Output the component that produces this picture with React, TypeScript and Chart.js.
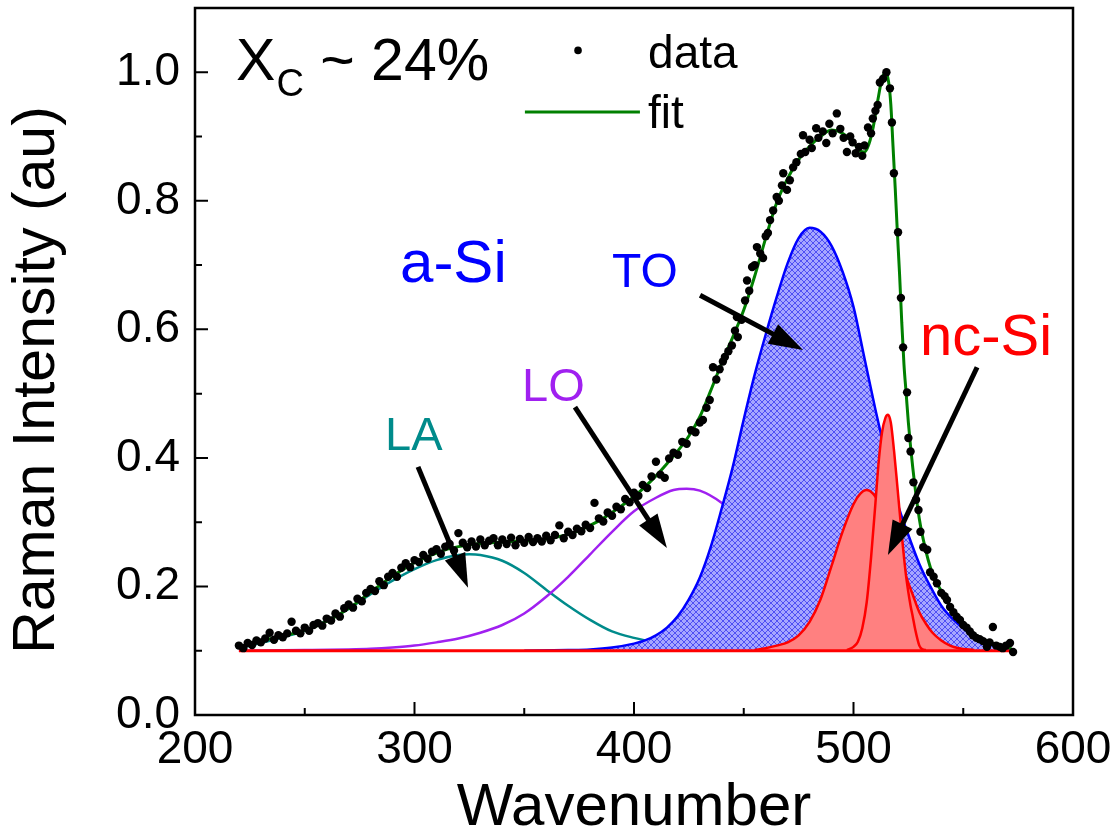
import React, { useEffect, useRef } from 'react';
import { Chart, registerables } from 'chart.js';

Chart.register(...registerables);

const FONT = "'Liberation Sans', Arial, Helvetica, sans-serif";

// ---- axis ticks ----
const xMajorTicks = [200, 300, 400, 500, 600];
const xMinorTicks = [250, 350, 450, 550];
const yMajorTicks = [0, 0.2, 0.4, 0.6, 0.8, 1.0];
const yMinorTicks = [0.1, 0.3, 0.5, 0.7, 0.9];

// ---- measured spectrum (wavenumber, intensity) ----
const dataPoints: [number, number][] = [
  [220,.108],[222,.104],[224,.112],[226,.109],[228,.116],[230,.113],[232,.119],[234,.128],[236,.117],[238,.124],
  [240,.121],[242,.127],[244,.145],[246,.131],[248,.127],[250,.136],[252,.131],[254,.140],[256,.143],[258,.139],
  [260,.150],[262,.147],[264,.158],[266,.153],[268,.166],[270,.172],[272,.167],[274,.181],[276,.177],[278,.190],
  [280,.196],[282,.193],[284,.208],[286,.202],[288,.215],[290,.221],[292,.215],[294,.229],[296,.236],[298,.230],
  [300,.241],[302,.238],[304,.249],[306,.243],[308,.254],[310,.258],[312,.251],[314,.262],[316,.266],[318,.256],
  [320,.283],[322,.268],[324,.261],[326,.270],[328,.262],[330,.273],[332,.264],[334,.271],[336,.275],[338,.264],
  [340,.273],[342,.266],[344,.276],[346,.264],[348,.274],[350,.268],[352,.277],[354,.269],[356,.275],[358,.270],
  [360,.279],[362,.272],[364,.280],[366,.295],[368,.275],[370,.285],[372,.280],[374,.290],[376,.286],[378,.296],
  [380,.291],[382,.330],[384,.306],[386,.301],[388,.315],[390,.310],[392,.324],[394,.320],[396,.336],[398,.331],
  [400,.346],[402,.341],[404,.358],[406,.353],[408,.371],[410,.394],[412,.374],[414,.369],[416,.399],[418,.408],
  [420,.405],[422,.425],[424,.422],[426,.443],[428,.440],
  [430,.455],[431.4,.459],[433,.478],[434.5,.49],[436,.541],[437.5,.522],[439,.538],[440.5,.55],[441.4,.557],[443,.566],
  [444.6,.575],[446,.598],[446.9,.619],[447.3,.588],[449,.615],[450.6,.645],[451.5,.676],[452.5,.66],[453.8,.697],[455,.70],
  [456,.728],[457.5,.718],[458.8,.711],[460,.745],[461,.75],[462,.77],[463.4,.785],[465,.806],[466,.80],[467.4,.824],
  [468,.843],[469.7,.817],[471,.832],[472.5,.852],[474,.86],[476,.873],[477,.902],[478,.876],[480,.895],[481,.882],
  [483,.913],[484,.898],[486,.908],[487.6,.89],[489,.92],[490.5,.905],[492.4,.936],[494,.912],[495.5,.898],[497,.876],
  [498.5,.90],[499.6,.891],[501,.874],[502.5,.884],[504,.87],[505,.886],[506.6,.914],[508,.905],[508.8,.928],[510,.94],
  [511,.949],[512,.984],[513.5,.99],[515,1.0],[516.6,.975],[517.5,.922],[518.4,.843],[520.3,.751],[521.6,.649],[522.6,.572],
  [524.4,.502],[525,.431],[526,.41],[527.3,.362],[528.5,.335],[529.6,.319],[530.5,.285],[531.8,.261],[533.6,.257],[534.9,.222],
  [536.5,.215],[538,.205],[540,.19],[541.5,.185],[542.6,.179],[544,.168],[545.5,.16],[547,.153],[548.5,.148],[550,.14],
  [551.5,.136],[553,.13],[554.4,.124],[556,.12],[557.5,.118],[559,.115],[560.8,.106],[562,.113],[563.5,.137],[565,.108],
  [566.7,.106],[568,.104],[569.5,.108],[571.3,.112],[572.7,.098],
];

// ---- fitted envelope ----
const fitCurve: [number, number][] = [
  [220,.106],[225,.110],[230,.115],[235,.119],[240,.123],[245,.127],[250,.132],[255,.138],[260,.146],[265,.155],
  [270,.166],[275,.178],[280,.191],[285,.204],[290,.216],[295,.227],[300,.237],[305,.245],[310,.252],[315,.258],
  [320,.262],[325,.265],[330,.267],[335,.268],[340,.269],[345,.270],[350,.271],[355,.272],[360,.274],[365,.277],
  [370,.281],[375,.287],[380,.295],[385,.304],[390,.315],[395,.327],[400,.340],[405,.355],[410,.372],[415,.391],
  [420,.411],[425,.434],[430,.464],[435,.505],[440,.548],[445,.588],[450,.630],[455,.683],[460,.742],[465,.797],
  [470,.835],[475,.864],[480,.885],[485,.900],[490,.910],[495,.905],[500,.890],[503,.878],[505,.876],[507,.888],
  [509,.915],[511,.955],[513,.990],[514.5,1.0],[516,.985],[517,.950],[518,.885],[519,.820],[520,.750],[521,.685],
  [522,.610],[523,.545],[524,.500],[525,.455],[527,.385],[530,.305],[533,.255],[535,.230],[538,.205],[540,.193],
  [545,.163],[550,.142],[555,.126],[560,.116],[565,.109],[570,.105],[572,.104],
];

// ---- component bands ----
const laBand: [number, number][] = [
  [220,.104],[230,.112],[240,.121],[250,.131],[260,.147],[270,.165],[280,.188],[290,.209],[300,.227],[310,.241],
  [320,.249],[325,.250],[330,.249],[340,.240],[350,.221],[360,.195],[370,.170],[380,.148],[390,.130],[400,.120],
  [410,.113],[420,.108],[430,.105],[440,.103],[450,.101],
];
const loBand: [number, number][] = [
  [220,.100],[250,.101],[270,.102],[280,.103],[290,.105],[300,.108],[310,.113],[320,.119],[330,.128],[340,.140],
  [350,.158],[360,.184],[370,.215],[380,.250],[390,.285],[400,.317],[410,.338],[418,.350],[424,.352],[430,.349],
  [440,.330],[450,.300],[460,.262],[470,.222],[480,.185],[490,.155],[500,.132],[510,.117],[520,.108],[530,.103],
  [540,.101],
];
const toBand: [number, number][] = [
  [350,.100],[370,.101],[380,.102],[390,.105],[400,.111],[405,.116],[410,.124],[415,.136],[420,.154],[425,.180],
  [430,.214],[435,.262],[440,.322],[445,.386],[450,.460],[455,.530],[460,.592],[465,.650],[470,.703],[475,.742],
  [480,.758],[485,.752],[490,.730],[495,.690],[500,.635],[505,.555],[510,.475],[515,.400],[520,.330],[525,.280],
  [530,.235],[535,.200],[540,.170],[545,.150],[550,.135],[555,.122],[560,.113],[566,.106],[572,.102],
];
const ncBand1: [number, number][] = [
  [455,.101],[460,.104],[465,.108],[470,.113],[475,.124],[480,.145],[485,.180],[490,.232],[495,.285],[500,.328],
  [503,.344],[506,.350],[509,.344],[512,.328],[515,.305],[518,.276],[521,.245],[524,.215],[527,.187],[530,.160],
  [533,.142],[536,.128],[540,.116],[544,.108],[548,.104],[555,.101],
];
const ncBand2: [number, number][] = [
  [497,.101],[500,.106],[502,.114],[504,.135],[506,.175],[508,.245],[510,.330],[511.5,.395],[513,.440],[514.5,.462],
  [515.7,.467],[517,.455],[518.5,.410],[520,.355],[522,.280],[524,.215],[526,.170],[527,.153],[528,.135],[530,.108],
  [531.5,.102],[533,.101],
];
const baseline: [number, number][] = [[220, 0.1], [572, 0.1]];
const BASE_LEVEL = 0.1;

// ---- annotations (data coordinates) ----
const textLabels = [
  { text: 'a-Si', x: 293.4, y: 0.673, color: '#0000FF', size: 60 },
  { text: 'TO', x: 390.0, y: 0.666, color: '#0000FF', size: 48 },
  { text: 'LO', x: 349.0, y: 0.488, color: '#A020F0', size: 47 },
  { text: 'LA', x: 286.6, y: 0.412, color: '#008B8B', size: 47 },
  { text: 'nc-Si', x: 530.3, y: 0.560, color: '#FF0000', size: 58 },
];
const arrows = [
  { x1: 301.6, y1: 0.386, x2: 324.4, y2: 0.198 },
  { x1: 373.1, y1: 0.479, x2: 415.0, y2: 0.260 },
  { x1: 430.1, y1: 0.653, x2: 477.0, y2: 0.568 },
  { x1: 556.3, y1: 0.541, x2: 515.7, y2: 0.249 },
];
const crystallinity = { main: 'X', sub: 'C', rest: ' ~ 24%', x: 218.7, y: 0.988 };
const legendItems = { dotX: 374.5, dotY: 1.034, lineX1: 350.3, lineX2: 402.7, lineY: 0.938, textX: 406.4, dataY: 1.006, fitY: 0.913 };

const toPts = (arr: [number, number][]) => arr.map(([x, y]) => ({ x, y }));

function makeHatch(): CanvasPattern | string {
  const c = document.createElement('canvas');
  c.width = 6; c.height = 6;
  const g = c.getContext('2d');
  if (!g) return '#8C8CFF';
  g.fillStyle = '#A6A6FF';
  g.fillRect(0, 0, 6, 6);
  g.strokeStyle = '#4646F2';
  g.lineWidth = 0.9;
  g.beginPath();
  g.moveTo(-1, -1); g.lineTo(7, 7);
  g.moveTo(7, -1); g.lineTo(-1, 7);
  g.stroke();
  return g.createPattern(c, 'repeat') || '#8C8CFF';
}

function drawArrow(ctx: CanvasRenderingContext2D, x1: number, y1: number, x2: number, y2: number) {
  const ang = Math.atan2(y2 - y1, x2 - x1);
  const headLen = 34, headW = 11;
  const bx = x2 - headLen * Math.cos(ang);
  const by = y2 - headLen * Math.sin(ang);
  ctx.strokeStyle = '#000';
  ctx.fillStyle = '#000';
  ctx.lineWidth = 5;
  ctx.lineCap = 'butt';
  ctx.beginPath();
  ctx.moveTo(x1, y1);
  ctx.lineTo(bx + 4 * Math.cos(ang), by + 4 * Math.sin(ang));
  ctx.stroke();
  ctx.beginPath();
  ctx.moveTo(x2, y2);
  ctx.lineTo(bx + headW * Math.sin(ang), by - headW * Math.cos(ang));
  ctx.lineTo(bx - headW * Math.sin(ang), by + headW * Math.cos(ang));
  ctx.closePath();
  ctx.fill();
}

const decorPlugin = {
  id: 'decor',
  afterDraw(chart: any) {
    const ctx: CanvasRenderingContext2D = chart.ctx;
    const xs = chart.scales.x;
    const ys = chart.scales.y;
    const { left, right, top, bottom } = chart.chartArea;
    const px = (v: number) => xs.getPixelForValue(v);
    const py = (v: number) => ys.getPixelForValue(v);
    ctx.save();

    // frame
    ctx.strokeStyle = '#000';
    ctx.lineWidth = 2.5;
    ctx.strokeRect(left, top, right - left, bottom - top);

    // inward ticks
    ctx.lineWidth = 2;
    ctx.beginPath();
    xMajorTicks.forEach((v) => { const p = px(v); ctx.moveTo(p, bottom); ctx.lineTo(p, bottom - 13); });
    xMinorTicks.forEach((v) => { const p = px(v); ctx.moveTo(p, bottom); ctx.lineTo(p, bottom - 7); });
    yMajorTicks.forEach((v) => { const p = py(v); ctx.moveTo(left, p); ctx.lineTo(left + 13, p); });
    yMinorTicks.forEach((v) => { const p = py(v); ctx.moveTo(left, p); ctx.lineTo(left + 7, p); });
    ctx.stroke();

    // y axis title
    ctx.save();
    ctx.translate(38, 380);
    ctx.rotate(-Math.PI / 2);
    ctx.font = `59px ${FONT}`;
    ctx.fillStyle = '#000';
    ctx.textAlign = 'center';
    ctx.textBaseline = 'middle';
    ctx.fillText('Raman Intensity (au)', 0, 0);
    ctx.restore();

    // arrows
    arrows.forEach((a) => drawArrow(ctx, px(a.x1), py(a.y1), px(a.x2), py(a.y2)));

    // text labels
    ctx.textAlign = 'left';
    ctx.textBaseline = 'alphabetic';
    textLabels.forEach((t) => {
      ctx.font = `${t.size}px ${FONT}`;
      ctx.fillStyle = t.color;
      ctx.fillText(t.text, px(t.x), py(t.y));
    });

    // X_C ~ 24%
    ctx.fillStyle = '#000';
    let cx = px(crystallinity.x);
    const cy = py(crystallinity.y);
    ctx.font = `59px ${FONT}`;
    ctx.fillText(crystallinity.main, cx, cy);
    cx += ctx.measureText(crystallinity.main).width + 1;
    ctx.font = `38px ${FONT}`;
    ctx.fillText(crystallinity.sub, cx, cy + 16);
    cx += ctx.measureText(crystallinity.sub).width;
    ctx.font = `59px ${FONT}`;
    ctx.fillText(crystallinity.rest, cx, cy);

    // legend
    ctx.beginPath();
    ctx.arc(px(legendItems.dotX), py(legendItems.dotY), 3.8, 0, Math.PI * 2);
    ctx.fill();
    ctx.strokeStyle = '#008000';
    ctx.lineWidth = 3;
    ctx.beginPath();
    ctx.moveTo(px(legendItems.lineX1), py(legendItems.lineY));
    ctx.lineTo(px(legendItems.lineX2), py(legendItems.lineY));
    ctx.stroke();
    ctx.font = `46px ${FONT}`;
    ctx.fillStyle = '#000';
    ctx.fillText('data', px(legendItems.textX), py(legendItems.dataY));
    ctx.fillText('fit', px(legendItems.textX), py(legendItems.fitY));

    ctx.restore();
  },
};

export default function App() {
  const canvasRef = useRef<HTMLCanvasElement | null>(null);

  useEffect(() => {
    document.body.style.margin = '0';
    const canvas = canvasRef.current;
    if (!canvas) return;
    const hatch = makeHatch();
    const lineDefaults = { showLine: true, pointRadius: 0, pointHoverRadius: 0, cubicInterpolationMode: 'monotone' as const };

    const chart = new Chart(canvas, {
      type: 'scatter',
      data: {
        datasets: [
          { label: 'data', data: toPts(dataPoints), showLine: false, pointRadius: 4.2, pointBackgroundColor: '#000', pointBorderWidth: 0, pointBorderColor: '#000', order: 0 },
          { label: 'fit', data: toPts(fitCurve), ...lineDefaults, borderColor: '#008000', borderWidth: 3, order: 1 },
          { label: 'baseline', data: toPts(baseline), ...lineDefaults, borderColor: '#FF0000', borderWidth: 3, order: 2 },
          { label: 'nc-Si 2', data: toPts(ncBand2), ...lineDefaults, borderColor: '#FF0000', borderWidth: 2.5, backgroundColor: '#FF8080', fill: { value: BASE_LEVEL }, order: 3 },
          { label: 'nc-Si 1', data: toPts(ncBand1), ...lineDefaults, borderColor: '#FF0000', borderWidth: 2.5, backgroundColor: '#FF8080', fill: { value: BASE_LEVEL }, order: 4 },
          { label: 'TO', data: toPts(toBand), ...lineDefaults, borderColor: '#0000FF', borderWidth: 2.5, backgroundColor: hatch as any, fill: { value: BASE_LEVEL }, order: 5 },
          { label: 'LO', data: toPts(loBand), ...lineDefaults, borderColor: '#A020F0', borderWidth: 2.5, order: 6 },
          { label: 'LA', data: toPts(laBand), ...lineDefaults, borderColor: '#008B8B', borderWidth: 2.5, order: 7 },
        ] as any,
      },
      options: {
        responsive: false,
        devicePixelRatio: 1,
        animation: false,
        layout: { padding: { top: 8, right: 44, bottom: 0, left: 0 } },
        plugins: {
          legend: { display: false },
          tooltip: { enabled: false },
        },
        scales: {
          x: {
            type: 'linear',
            min: 200,
            max: 600,
            grid: { display: false, drawTicks: false },
            border: { display: false },
            ticks: {
              font: { family: FONT, size: 46, lineHeight: 1 },
              color: '#000',
              padding: 12,
              maxRotation: 0,
              autoSkip: false,
              callback: (v: any) => String(v),
            },
            afterBuildTicks: (s: any) => { s.ticks = xMajorTicks.map((v) => ({ value: v })); },
            afterFit: (s: any) => { s.height = 123; s.paddingLeft = 0; s.paddingRight = 0; },
            title: {
              display: true,
              text: 'Wavenumber',
              color: '#000',
              font: { family: FONT, size: 60, lineHeight: 1 },
              padding: { top: 0, bottom: 0 },
            },
          },
          y: {
            type: 'linear',
            min: 0,
            max: 1.1,
            grid: { display: false, drawTicks: false },
            border: { display: false },
            ticks: {
              font: { family: FONT, size: 46, lineHeight: 1 },
              color: '#000',
              padding: 15,
              callback: (v: any) => Number(v).toFixed(1),
            },
            afterBuildTicks: (s: any) => { s.ticks = yMajorTicks.map((v) => ({ value: v })); },
            afterFit: (s: any) => { s.width = 195; s.paddingTop = 0; s.paddingBottom = 0; },
          },
        },
      } as any,
      plugins: [decorPlugin],
    });
    return () => chart.destroy();
  }, []);

  return (
    <div style={{ width: 1117, height: 838 }}>
      <canvas ref={canvasRef} width={1117} height={838} style={{ display: 'block' }} />
    </div>
  );
}
